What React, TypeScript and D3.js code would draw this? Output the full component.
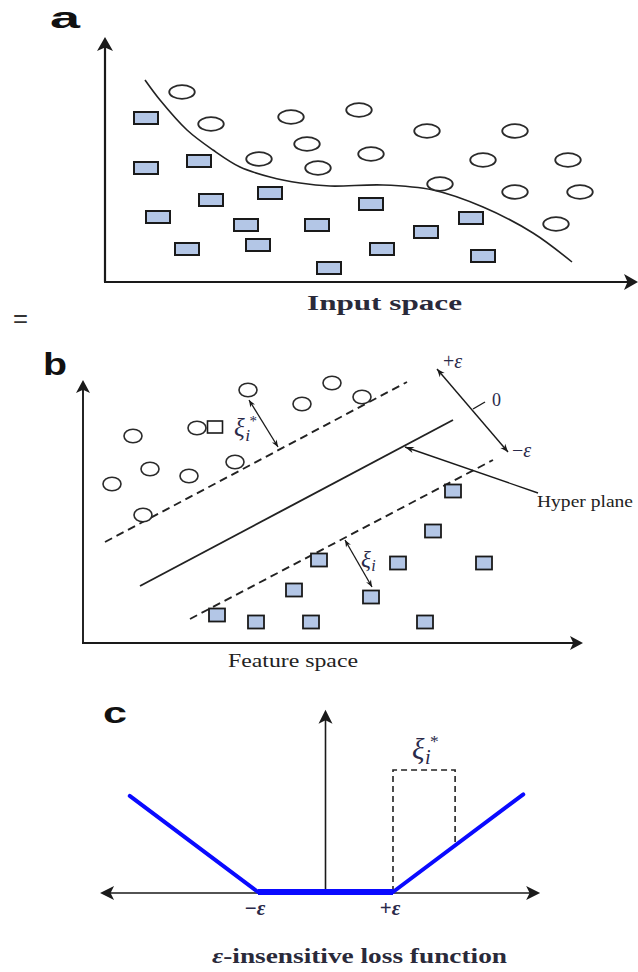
import React from "react";
import * as d3 from "d3";

// ---------- Panel a (input space) : coordinates relative to the axes origin ----------
const aSquares: [number, number][] = [
  [41, 164], [41, 114], [94, 121], [106, 82], [165, 89], [53, 65], [141, 57], [82, 33],
  [153, 37], [212, 57], [224, 14], [266, 78], [321, 50], [366, 64], [277, 33], [378, 26],
];
const aCircles: [number, number][] = [
  [77, 190], [106, 158], [186, 165], [202, 138], [154, 123], [213, 114], [254, 172], [266, 128],
  [322, 151], [410, 151], [378, 122], [463, 122], [335, 98], [410, 90], [475, 90], [451, 58],
];
const aBoundary: [number, number][] = [
  [40, 202], [55, 182], [82, 152], [108, 132], [135, 115], [165, 105], [195, 99], [225, 96],
  [278, 97], [328, 92], [378, 75], [428, 49], [467, 20],
];

// ---------- Panel b (feature space) ----------
const bCircles: [number, number][] = [
  [165, 253], [219, 239], [50, 207], [114, 215], [67, 174], [29, 159], [106, 167], [152, 181],
  [60, 128], [249, 260], [279, 246],
];
const bOpenSquares: [number, number][] = [[132, 216]];
const bSquares: [number, number][] = [
  [370, 152], [350, 112], [236, 83], [315, 80], [401, 80], [211, 53], [288, 46], [134, 28],
  [173, 21], [228, 21], [342, 21],
];
const bUpperMargin: [number, number][] = [[22, 101], [324, 261]];
const bHyperplane: [number, number][] = [[57, 57], [370, 223]];
const bLowerMargin: [number, number][] = [[107, 24], [410, 183]];
const bEpsArrow: [number, number][] = [[354, 274], [425, 191]];
const bEpsTick: [number, number][] = [[390, 234], [402, 241]];
const bPointer: [number, number][] = [[455, 150], [322, 196]];
const bXiStarArrow: [number, number][] = [[166, 243], [195, 196]];
const bXiArrow: [number, number][] = [[262, 103], [289, 56]];

// ---------- Panel c (epsilon-insensitive loss) ----------
const cLossX = [-2.9, -1, 1, 2.93];
const cLossY = [1.9, 0, 0, 1.93];
const cSlackX = [1, 1.92];
const cSlackTop = 2.41;
const cTickLabels = ["\u2212\u03B5", "+\u03B5"];
const cTickValues = [-1, 1];

// ---------- scales ----------
const ax = d3.scaleLinear().domain([0, 533]).range([105, 638]);
const ay = d3.scaleLinear().domain([0, 245]).range([282, 37]);
const bx = d3.scaleLinear().domain([0, 500]).range([83, 583]);
const by = d3.scaleLinear().domain([0, 263]).range([643, 380]);
const cx = d3.scaleLinear().domain([-1, 1]).range([258, 393]);
const cy = d3.scaleLinear().domain([0, 1]).range([892, 841.4]);

const SQ_FILL = "#b3c6e6";
const INK = "#1a1a1a";

function head(tx: number, ty: number, fx: number, fy: number, len: number, hw: number, notch = 0.7) {
  const ang = Math.atan2(ty - fy, tx - fx);
  const c = Math.cos(ang), s = Math.sin(ang);
  const bxp = tx - len * c, byp = ty - len * s;
  const p = d3.path();
  p.moveTo(tx, ty);
  p.lineTo(bxp - hw * s, byp + hw * c);
  p.lineTo(tx - len * notch * c, ty - len * notch * s);
  p.lineTo(bxp + hw * s, byp - hw * c);
  p.closePath();
  return p.toString();
}

function DoubleArrow({ pts, sx, sy, w = 1.3, len = 7, hw = 3 }: any) {
  const [x1, y1] = [sx(pts[0][0]), sy(pts[0][1])];
  const [x2, y2] = [sx(pts[1][0]), sy(pts[1][1])];
  return (
    <g>
      <line x1={x1} y1={y1} x2={x2} y2={y2} stroke={INK} strokeWidth={w} />
      <path d={head(x1, y1, x2, y2, len, hw)} fill={INK} />
      <path d={head(x2, y2, x1, y1, len, hw)} fill={INK} />
    </g>
  );
}

const serif = "'Liberation Serif', 'Times New Roman', serif";
const sans = "'Liberation Sans', Arial, sans-serif";

function Xi({ x, y, size, star }: { x: number; y: number; size: number; star: boolean }) {
  return (
    <g fill="#2a2a4a" fontFamily={serif} fontStyle="italic">
      <text x={x} y={y} fontSize={size}>ξ</text>
      <text x={x + size * 0.45} y={y + size * 0.18} fontSize={size * 0.7}>i</text>
      {star && (
        <text x={x + size * 0.62} y={y - size * 0.42} fontSize={size * 0.6} fontStyle="normal">*</text>
      )}
    </g>
  );
}

export default function App() {
  const boundary = d3.line<[number, number]>()
    .x((d) => ax(d[0]))
    .y((d) => ay(d[1]))
    .curve(d3.curveCatmullRom)(aBoundary);
  const seg = (pts: [number, number][], sx: any, sy: any) =>
    d3.line<[number, number]>().x((d) => sx(d[0])).y((d) => sy(d[1]))(pts) as string;
  const lossPts: [number, number][] = cLossX.map((v, i) => [v, cLossY[i]]);

  const aX0 = ax(0), aY0 = ay(0), aYTop = ay(245), aXEnd = ax(533);
  const bX0 = bx(0), bY0 = by(0), bYTop = by(263), bXEnd = bx(500);
  const cAxisY = cy(-0.02);
  const cYAxisX = cx(0);
  const cLeft = cx(-3.34), cRight = cx(3.18), cTop = cy(3.6);

  return (
    <svg width={638} height={972} style={{ position: "absolute", left: 0, top: 0, background: "#fff" }}>
      <rect width={638} height={972} fill="#fff" />

      {/* ================= Panel a ================= */}
      <text x={50} y={28} fontFamily={sans} fontWeight={900} fontSize={30} textLength={30} lengthAdjust="spacingAndGlyphs" fill="#111">a</text>
      <line x1={aX0} y1={aY0} x2={aX0} y2={aYTop + 8} stroke={INK} strokeWidth={2.2} />
      <path d={head(aX0, aYTop, aX0, aY0, 14, 8, 0.75)} fill={INK} />
      <line x1={aX0 - 1} y1={aY0} x2={aXEnd - 8} y2={aY0} stroke={INK} strokeWidth={2.2} />
      <path d={head(aXEnd, aY0, aX0, aY0, 14, 8, 0.75)} fill={INK} />
      <path d={boundary as string} fill="none" stroke="#222" strokeWidth={1.6} />
      {aCircles.map((d, i) => (
        <ellipse key={"ac" + i} cx={ax(d[0])} cy={ay(d[1])} rx={12.8} ry={6.8} fill="#fff" stroke="#2a2a2a" strokeWidth={1.8} />
      ))}
      {aSquares.map((d, i) => (
        <rect key={"as" + i} x={ax(d[0]) - 12} y={ay(d[1]) - 6} width={24} height={12} fill={SQ_FILL} stroke={INK} strokeWidth={2} />
      ))}
      <text x={307} y={310} fontFamily={serif} fontWeight="bold" fontSize={20} textLength={155} lengthAdjust="spacingAndGlyphs" fill="#2a2a3a">Input space</text>
      <text x={13} y={327} fontFamily={sans} fontSize={26} textLength={15} lengthAdjust="spacingAndGlyphs" fill="#333">=</text>

      {/* ================= Panel b ================= */}
      <text x={43} y={375} fontFamily={sans} fontWeight={900} fontSize={32} textLength={24} lengthAdjust="spacingAndGlyphs" fill="#111">b</text>
      <line x1={bX0} y1={bY0} x2={bX0} y2={bYTop + 8} stroke={INK} strokeWidth={1.9} />
      <path d={head(bX0, bYTop, bX0, bY0, 13, 7, 0.75)} fill={INK} />
      <line x1={bX0 - 1} y1={bY0} x2={bXEnd - 8} y2={bY0} stroke={INK} strokeWidth={1.9} />
      <path d={head(bXEnd, bY0, bX0, bY0, 13, 7, 0.75)} fill={INK} />

      <path d={seg(bUpperMargin, bx, by)} stroke="#222" strokeWidth={1.9} strokeDasharray="8,5" fill="none" />
      <path d={seg(bHyperplane, bx, by)} stroke="#222" strokeWidth={1.9} fill="none" />
      <path d={seg(bLowerMargin, bx, by)} stroke="#222" strokeWidth={1.9} strokeDasharray="8,5" fill="none" />

      {bCircles.map((d, i) => (
        <ellipse key={"bc" + i} cx={bx(d[0])} cy={by(d[1])} rx={9} ry={6.8} fill="#fff" stroke="#2a2a2a" strokeWidth={1.6} />
      ))}
      {bOpenSquares.map((d, i) => (
        <rect key={"bo" + i} x={bx(d[0]) - 7.5} y={by(d[1]) - 6} width={15} height={12} fill="#fff" stroke={INK} strokeWidth={1.6} />
      ))}
      {bSquares.map((d, i) => (
        <rect key={"bs" + i} x={bx(d[0]) - 8} y={by(d[1]) - 6.5} width={16} height={13} fill={SQ_FILL} stroke={INK} strokeWidth={1.8} />
      ))}

      <DoubleArrow pts={bEpsArrow} sx={bx} sy={by} w={1.4} len={8} hw={3.2} />
      <path d={seg(bEpsTick, bx, by)} stroke={INK} strokeWidth={1.4} />
      <line x1={bx(bPointer[0][0])} y1={by(bPointer[0][1])} x2={bx(bPointer[1][0])} y2={by(bPointer[1][1])} stroke={INK} strokeWidth={1.4} />
      <path d={head(bx(bPointer[1][0]), by(bPointer[1][1]), bx(bPointer[0][0]), by(bPointer[0][1]), 9, 3.2)} fill={INK} />
      <DoubleArrow pts={bXiStarArrow} sx={bx} sy={by} w={1.3} len={7} hw={2.8} />
      <DoubleArrow pts={bXiArrow} sx={bx} sy={by} w={1.3} len={7} hw={2.8} />

      <text x={443} y={368} fontFamily={serif} fontSize={20} fill="#2a2a4a">+<tspan fontStyle="italic">ε</tspan></text>
      <text x={492} y={406} fontFamily={serif} fontSize={18} fill="#2a2a4a">0</text>
      <text x={512} y={457} fontFamily={serif} fontSize={20} fill="#2a2a4a">−<tspan fontStyle="italic">ε</tspan></text>
      <text x={537} y={507} fontFamily={serif} fontSize={17} textLength={96} lengthAdjust="spacingAndGlyphs" fill="#222">Hyper plane</text>
      <Xi x={234} y={436} size={25} star={true} />
      <Xi x={361} y={567} size={23} star={false} />
      <text x={228} y={667} fontFamily={serif} fontSize={19} textLength={130} lengthAdjust="spacingAndGlyphs" fill="#222">Feature space</text>

      {/* ================= Panel c ================= */}
      <text x={103} y={723} fontFamily={sans} fontWeight={900} fontSize={30} textLength={24} lengthAdjust="spacingAndGlyphs" fill="#111">c</text>
      <line x1={cLeft + 8} y1={cAxisY} x2={cRight - 8} y2={cAxisY} stroke={INK} strokeWidth={1.6} />
      <path d={head(cLeft, cAxisY, cRight, cAxisY, 14, 7, 0.75)} fill={INK} />
      <path d={head(cRight, cAxisY, cLeft, cAxisY, 14, 7, 0.75)} fill={INK} />
      <line x1={cYAxisX} y1={cAxisY} x2={cYAxisX} y2={cTop + 8} stroke={INK} strokeWidth={1.6} />
      <path d={head(cYAxisX, cTop, cYAxisX, cAxisY, 14, 7, 0.75)} fill={INK} />

      <path
        d={`M${cx(cSlackX[0])},${cy(0)} L${cx(cSlackX[0])},${cy(cSlackTop)} L${cx(cSlackX[1])},${cy(cSlackTop)} L${cx(cSlackX[1])},${cy(cSlackX[1] - 1)}`}
        fill="none" stroke="#222" strokeWidth={1.6} strokeDasharray="6,4"
      />
      <path d={seg([lossPts[0], lossPts[1]], cx, cy)} stroke="#0a0aff" strokeWidth={4} fill="none" strokeLinecap="round" />
      <path d={seg([lossPts[2], lossPts[3]], cx, cy)} stroke="#0a0aff" strokeWidth={4} fill="none" strokeLinecap="round" />
      <path d={seg([lossPts[1], lossPts[2]], cx, cy)} stroke="#0a0aff" strokeWidth={6} fill="none" />

      {cTickValues.map((v, i) => (
        <text key={"ct" + i} x={cx(v) - 3} y={915} textAnchor="middle" fontFamily={serif} fontWeight="bold" fontSize={21} fill="#2a2a4a">
          {cTickLabels[i][0]}<tspan fontStyle="italic">{cTickLabels[i].slice(1)}</tspan>
        </text>
      ))}
      <Xi x={412} y={759} size={29} star={true} />
      <text x={212} y={963} fontFamily={serif} fontWeight="bold" fontSize={22} textLength={295} lengthAdjust="spacingAndGlyphs" fill="#2a2a3a">
        <tspan fontStyle="italic">ε</tspan>-insensitive loss function
      </text>
    </svg>
  );
}
